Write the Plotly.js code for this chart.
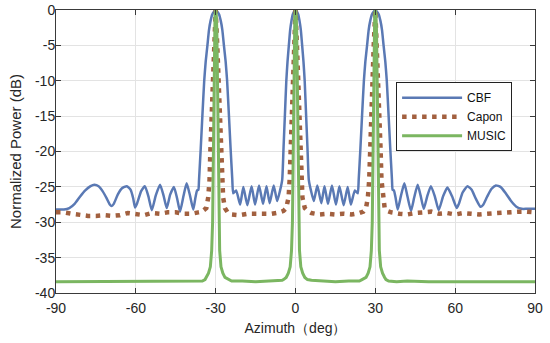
<!DOCTYPE html>
<html>
<head>
<meta charset="utf-8">
<script src="https://cdn.plot.ly/plotly-3.0.1.min.js"></script>
<style>html,body{margin:0;padding:0;background:#fff;}#chart{width:550px;height:343px;}</style>
</head>
<body>
<div id="chart"></div>
<script>
// CBF
const cbfX = [-90,-87,-85,-83,-81,-79,-77,-75.6,-74,-72.5,-71,-69.8,-69.1,-68.3,-66.8,-65.2,-63.4,-62,-61,-60.3,-59.5,-58,-56.6,-55.3,-54.0,-52.5,-50.9,-49.6,-48.4,-47.1,-45.7,-44.5,-43.4,-42.1,-40.9,-39.6,-38.4,-37.6,-37.0,-36.5,
  -36.25,-35.6,-35,-34.3,-33.75,-33.1,-32.5,-31.9,-31.25,-30,-28.75,-28.1,-27.5,-26.9,-26.25,-25.7,-25,-24.4,-23.75,
  -23.4,-22.3,-20.8,-19.6,-18.1,-16.5,-15.2,-13.7,-12.2,-10.9,-9.7,-8.2,-6.9,-5.8,
  -5.0,-4.5,-4,-3.45,-3,-2.5,-2,-1.5,-1,0,1,1.5,2,2.5,3,3.45,4,4.5,5,
  5.8,6.9,8.2,9.7,10.9,12.2,13.7,15.2,16.5,18.1,19.6,20.8,22.3,23.4,
  23.75,24.4,25,25.7,26.25,26.9,27.5,28.1,28.75,30,31.25,31.9,32.5,33.1,33.75,34.3,35,35.6,36.25,
  36.5,37.0,37.6,38.4,39.6,40.9,42.1,43.4,44.6,45.9,47.0,48.2,49.6,50.9,52.4,53.8,55.5,57.1,58.8,60.6,61.4,62.8,64.6,66.2,67.8,69.5,70.4,72,73.6,75.3,77,79,81,83,85,87,90];
const cbfY = [-28.2,-28.2,-28.0,-27.4,-26.4,-25.5,-24.9,-24.7,-24.9,-25.6,-26.6,-27.5,-27.7,-27.4,-26.1,-25.2,-24.9,-25.4,-26.6,-27.9,-27.3,-25.6,-24.9,-26.3,-28.3,-26.2,-24.7,-26.2,-28.0,-26.1,-25.0,-26.6,-28.5,-26.3,-24.5,-26.3,-28.2,-26.5,-25.5,-25.4,
  -24,-19.5,-15,-10,-7.3,-5,-2.8,-1.5,-0.6,0,-0.6,-1.5,-2.8,-5,-7.3,-10,-15,-19.5,-24,
  -25.9,-25.5,-27.5,-25.0,-27.6,-24.9,-27.5,-24.8,-27.4,-24.9,-27.3,-24.8,-27.0,-25.5,
  -24,-19.5,-15,-10,-7.3,-5,-2.8,-1.5,-0.6,0,-0.6,-1.5,-2.8,-5,-7.3,-10,-15,-19.5,-24,
  -25.5,-27.0,-24.8,-27.3,-24.9,-27.4,-24.8,-27.5,-24.9,-27.6,-25.0,-27.5,-25.5,-25.9,
  -24,-19.5,-15,-10,-7.3,-5,-2.8,-1.5,-0.6,0,-0.6,-1.5,-2.8,-5,-7.3,-10,-15,-19.5,-24,
  -25.4,-25.5,-26.5,-28.2,-26.3,-24.5,-26.4,-28.4,-26.5,-24.7,-26.2,-28.1,-26.2,-24.9,-26.4,-28.3,-26.3,-25.1,-26.3,-28.0,-27.4,-25.8,-24.9,-25.4,-26.7,-27.8,-27.6,-26.4,-25.3,-24.8,-25.0,-25.9,-27.0,-27.8,-28.1,-28.1,-28.1];

// Capon
const caponX = [-90,-87,-84,-81,-78,-75,-72,-69,-66,-63,-60,-57,-54,-51,-48,-45,-42,-39,-36.5,-35,
  -34.5,-33.5,-32.8,-32.3,-32.0,-31.6,-31.1,-30.6,-30,-29.4,-28.9,-28.4,-28.0,-27.7,-27.2,-26.5,-25.5,
  -24,-21,-18,-15,-12,-9,-6,-4.5,
  -3.5,-2.6,-2.2,-1.9,-1.5,-1.05,-0.55,0,0.55,1.05,1.5,1.9,2.2,2.6,3.5,4.5,
  6,9,12,15,18,21,24,25.5,
  26.5,27.2,27.7,28.0,28.4,28.9,29.4,30,30.6,31.1,31.6,32.0,32.3,32.8,33.5,34.5,
  36,39,42,45,48,51,54,57,60,63,66,69,72,75,78,81,84,87,90];
const caponY = [-28.6,-28.6,-28.8,-29.0,-29.1,-29.1,-29.0,-29.1,-29.0,-28.7,-28.8,-29.0,-28.7,-28.8,-28.6,-28.6,-28.8,-28.8,-28.6,-28.5,
  -28.3,-28.0,-26.5,-24,-20,-15,-10,-5,0,-5,-10,-15,-20,-24,-26.5,-28.0,-28.6,
  -28.9,-29.0,-28.8,-28.8,-28.7,-28.8,-28.6,-28.4,
  -28.0,-26.5,-24,-20,-15,-10,-5,0,-5,-10,-15,-20,-24,-26.5,-28.0,-28.4,
  -28.7,-28.9,-28.8,-28.9,-28.8,-28.9,-28.7,-28.5,
  -28.0,-26.5,-24,-20,-15,-10,-5,0,-5,-10,-15,-20,-24,-26.5,-28.0,-28.4,
  -28.6,-28.8,-28.9,-28.7,-28.6,-28.5,-28.8,-28.7,-28.9,-28.7,-28.8,-28.9,-28.8,-28.7,-28.6,-28.6,-28.5,-28.5,-28.6];

// MUSIC
const musicX = [-90,-80,-70,-60,-50,-42,-38,-35,-34,-33.5,-32.7,-32.0,-31.5,-31.15,-31.0,-30.9,-30.75,-30.6,-30.45,-30.25,-30,
  -29.75,-29.55,-29.4,-29.25,-29.1,-29.0,-28.85,-28.5,-28.0,-27.3,-26.5,-25,-24,-20,-15,-10,-6,-5,
  -4.5,-3.5,-2.7,-2.0,-1.5,-1.15,-1.0,-0.9,-0.75,-0.6,-0.45,-0.25,0,
  0.25,0.45,0.6,0.75,0.9,1.0,1.15,1.5,2.0,2.7,3.5,4.5,
  6,10,15,20,24,25,26.5,27.3,28.0,28.5,28.85,29.0,29.1,29.25,29.4,29.55,29.75,30,
  30.25,30.45,30.6,30.75,30.9,31.0,31.15,31.5,32.0,32.7,33.5,34,35,38,42,50,60,70,80,90];
const musicY = [-38.4,-38.4,-38.4,-38.4,-38.4,-38.3,-38.4,-38.3,-38.1,-37.8,-37.2,-36.3,-34,-30,-25,-20,-14,-8,-3,-0.8,0,
  -0.8,-3,-8,-14,-20,-25,-30,-34,-36.3,-37.2,-37.8,-38.1,-38.3,-38.3,-38.4,-38.3,-38.3,-38.2,
  -38.1,-37.8,-37.2,-36.3,-34,-30,-25,-20,-14,-8,-3,-0.8,0,
  -0.8,-3,-8,-14,-20,-25,-30,-34,-36.3,-37.2,-37.8,-38.1,
  -38.2,-38.3,-38.4,-38.3,-38.3,-38.1,-37.8,-37.2,-36.3,-34,-30,-25,-20,-14,-8,-3,-0.8,0,
  -0.8,-3,-8,-14,-20,-25,-30,-34,-36.3,-37.2,-37.8,-38.1,-38.3,-38.4,-38.3,-38.4,-38.4,-38.4,-38.4,-38.4];

const xTicks = [-90,-60,-30,0,30,60,90];
const yTicks = [0,-5,-10,-15,-20,-25,-30,-35,-40];

const font = 'Arial, "Liberation Sans", sans-serif';

const traces = [
  {x: cbfX, y: cbfY, name: 'CBF', mode: 'lines', line: {color: '#5A79B4', width: 2.5, shape: 'spline', smoothing: 0.5}},
  {x: caponX, y: caponY, name: 'Capon', mode: 'lines', line: {color: '#A2603F', width: 4.5, dash: '4.5px,5.5px'}},
  {x: musicX, y: musicY, name: 'MUSIC', mode: 'lines', line: {color: '#7BB661', width: 3}}
];

const axisCommon = {
  showline: true, linecolor: '#3a3a3a', linewidth: 1, mirror: 'ticks',
  ticks: 'inside', ticklen: 5, tickcolor: '#3a3a3a', tickwidth: 1,
  showgrid: true, gridcolor: '#e3e3e3', gridwidth: 1, zeroline: false,
  tickfont: {family: font, size: 14, color: '#262626'}
};

const layout = {
  width: 550, height: 343,
  margin: {l: 56, r: 15, t: 10, b: 50},
  paper_bgcolor: '#fff', plot_bgcolor: '#fff',
  showlegend: true,
  xaxis: Object.assign({}, axisCommon, {
    range: [-90, 90], tickvals: xTicks, ticktext: xTicks.map(String),
    ticklabelstandoff: 2,
    title: {text: 'Azimuth（deg）', font: {family: font, size: 14, color: '#262626'}, standoff: 8}
  }),
  yaxis: Object.assign({}, axisCommon, {
    range: [-40, 0], tickvals: yTicks, ticktext: yTicks.map(String),
    ticklabelstandoff: -3,
    title: {text: 'Normalized Power (dB)', font: {family: font, size: 15, color: '#262626'}, standoff: 9}
  }),
  legend: {
    x: 0.71, y: 0.745, xanchor: 'left', yanchor: 'top',
    bgcolor: '#fff', bordercolor: '#222', borderwidth: 1,
    font: {family: font, size: 12, color: '#111'},
    itemwidth: 60, tracegroupgap: 0
  }
};

Plotly.newPlot('chart', traces, layout, {displayModeBar: false, staticPlot: true});
</script>
</body>
</html>
